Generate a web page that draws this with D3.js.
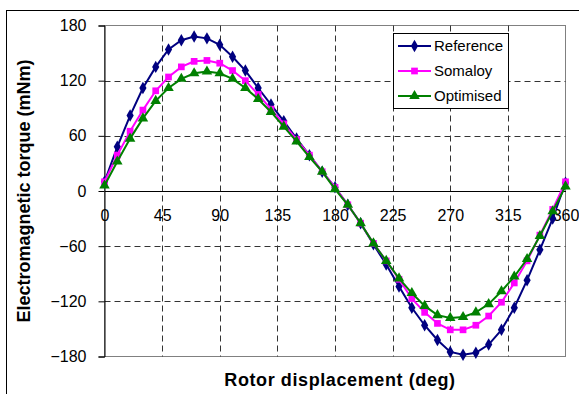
<!DOCTYPE html>
<html>
<head>
<meta charset="utf-8">
<script src="https://cdn.jsdelivr.net/npm/d3@7"></script>
<style>
  body { margin: 0; background: #fff; }
  text { font-family: "Liberation Sans", Arial, sans-serif; }
</style>
</head>
<body>
<div id="chart"></div>
<script>
// rotor angle (deg) and torque (mNm)
const angles = [0, 10, 20, 30, 40, 50, 60, 70, 80, 90, 100, 110, 120, 130, 140, 150, 160, 170, 180,
                190, 200, 210, 220, 230, 240, 250, 260, 270, 280, 290, 300, 310, 320, 330, 340, 350, 360];
const reference = [10, 48, 82, 112, 135, 154, 164, 168, 166, 159, 146, 131, 112, 94, 76, 57, 39, 21, 4,
                   -15, -35, -58, -80, -104, -127, -146, -162, -175, -178, -176, -167, -151, -127, -97, -64, -30, 9];
const somaloy = [10, 39, 65, 88, 109, 124, 135, 141, 142, 139, 131, 120, 105, 89, 73, 56, 39, 21, 4,
                 -15, -35, -57, -76, -96, -117, -132, -144, -151, -151, -146, -136, -121, -100, -76, -48, -20, 10];
const optimised = [6, 32, 57, 79, 98, 112, 122, 128, 130, 128, 122, 112, 100, 86, 70, 54, 37, 21, 2,
                   -15, -35, -57, -76, -95, -111, -125, -135, -138, -137, -132, -123, -109, -93, -74, -49, -22, 5];

const seriesNames = ["Reference", "Somaloy", "Optimised"];
const xTicks = [0, 45, 90, 135, 180, 225, 270, 315, 360];
const yTicks = [-180, -120, -60, 0, 60, 120, 180];

const width = 579, height = 394;
const plot = {left: 104.5, right: 565.5, top: 25.5, bottom: 356.5};

const svg = d3.select("#chart").append("svg")
    .attr("width", width)
    .attr("height", height);

// outer frame (runs off the right and bottom of the picture)
svg.append("rect")
    .attr("x", 6.5).attr("y", 10.5)
    .attr("width", 700).attr("height", 500)
    .attr("fill", "none")
    .attr("stroke", "#000")
    .attr("stroke-width", 1);

const x = d3.scaleLinear().domain([0, 360]).range([plot.left, plot.right]);
const y = d3.scaleLinear().domain([-180, 180]).range([plot.bottom, plot.top]);

// plot area border
svg.append("rect")
    .attr("x", plot.left).attr("y", plot.top)
    .attr("width", plot.right - plot.left)
    .attr("height", plot.bottom - plot.top)
    .attr("fill", "#fff")
    .attr("stroke", "#808080")
    .attr("stroke-width", 1);

// dashed grid
const grid = svg.append("g").attr("class", "grid");
grid.selectAll("line.v")
    .data(xTicks.filter(d => d > 0 && d < 360))
    .join("line")
    .attr("class", "v")
    .attr("x1", d => Math.round(x(d)) + 0.5).attr("x2", d => Math.round(x(d)) + 0.5)
    .attr("y1", plot.top).attr("y2", plot.bottom)
    .attr("stroke", "#333")
    .attr("stroke-dasharray", "6,4");
grid.selectAll("line.h")
    .data(yTicks.filter(d => d !== 0 && Math.abs(d) < 180))
    .join("line")
    .attr("class", "h")
    .attr("x1", plot.left).attr("x2", plot.right)
    .attr("y1", d => Math.round(y(d)) + 0.5).attr("y2", d => Math.round(y(d)) + 0.5)
    .attr("stroke", "#333")
    .attr("stroke-dasharray", "6,4");

// y axis
const yAxis = d3.axisLeft(y)
    .tickValues(yTicks)
    .tickSize(6)
    .tickPadding(12)
    .tickFormat(d3.format("d"));
const gy = svg.append("g")
    .attr("transform", `translate(${plot.left},0)`)
    .call(yAxis);
gy.select(".domain").attr("stroke", "#000");
gy.selectAll(".tick line").attr("stroke", "#000");
gy.selectAll("text")
    .style("font-size", "16px")
    .attr("fill", "#000");

// x axis at torque = 0
const xAxis = d3.axisBottom(x)
    .tickValues(xTicks)
    .tickSize(0)
    .tickPadding(19)
    .tickFormat(d3.format("d"));
const gx = svg.append("g")
    .attr("transform", `translate(0,${y(0)})`)
    .call(xAxis);
gx.select(".domain").attr("stroke", "#000");
gx.selectAll("text")
    .style("font-size", "16px")
    .attr("fill", "#000");

// axis titles
svg.append("text")
    .attr("x", 340).attr("y", 386)
    .attr("text-anchor", "middle")
    .style("font-size", "18px")
    .style("font-weight", "bold")
    .style("letter-spacing", "0.6px")
    .text("Rotor displacement (deg)");

svg.append("text")
    .attr("transform", `translate(30,${(plot.top + plot.bottom) / 2}) rotate(-90)`)
    .attr("text-anchor", "middle")
    .style("font-size", "18px")
    .style("font-weight", "bold")
    .text("Electromagnetic torque (mNm)");

// series
const series = [
    {name: seriesNames[0], values: reference, color: "#000080", symbol: d3.symbolDiamond, size: 45},
    {name: seriesNames[1], values: somaloy, color: "#FF00FF", symbol: d3.symbolSquare, size: 45},
    {name: seriesNames[2], values: optimised, color: "#008000", symbol: d3.symbolTriangle, size: 48}
];

const line = d3.line()
    .x((d, i) => x(angles[i]))
    .y(d => y(d));

series.forEach(s => {
    const g = svg.append("g");
    g.append("path")
        .datum(s.values)
        .attr("d", line)
        .attr("fill", "none")
        .attr("stroke", s.color)
        .attr("stroke-width", 2);
    g.selectAll("path.mark")
        .data(s.values)
        .join("path")
        .attr("class", "mark")
        .attr("d", d3.symbol().type(s.symbol).size(s.size))
        .attr("transform", (d, i) => `translate(${x(angles[i])},${y(d)})`)
        .attr("fill", s.color);
});

// legend
const legend = svg.append("g");
legend.append("rect")
    .attr("x", 393.5).attr("y", 33.5)
    .attr("width", 115).attr("height", 75)
    .attr("fill", "#fff")
    .attr("stroke", "#000");
series.forEach((s, i) => {
    const cy = 46 + i * 25;
    legend.append("line")
        .attr("x1", 398).attr("x2", 431)
        .attr("y1", cy).attr("y2", cy)
        .attr("stroke", s.color)
        .attr("stroke-width", 2);
    legend.append("path")
        .attr("d", d3.symbol().type(s.symbol).size(s.size))
        .attr("transform", `translate(414.5,${cy})`)
        .attr("fill", s.color);
    legend.append("text")
        .attr("x", 434).attr("y", cy)
        .attr("dy", "0.35em")
        .style("font-size", "15px")
        .attr("fill", "#000")
        .text(s.name);
});
</script>
</body>
</html>
